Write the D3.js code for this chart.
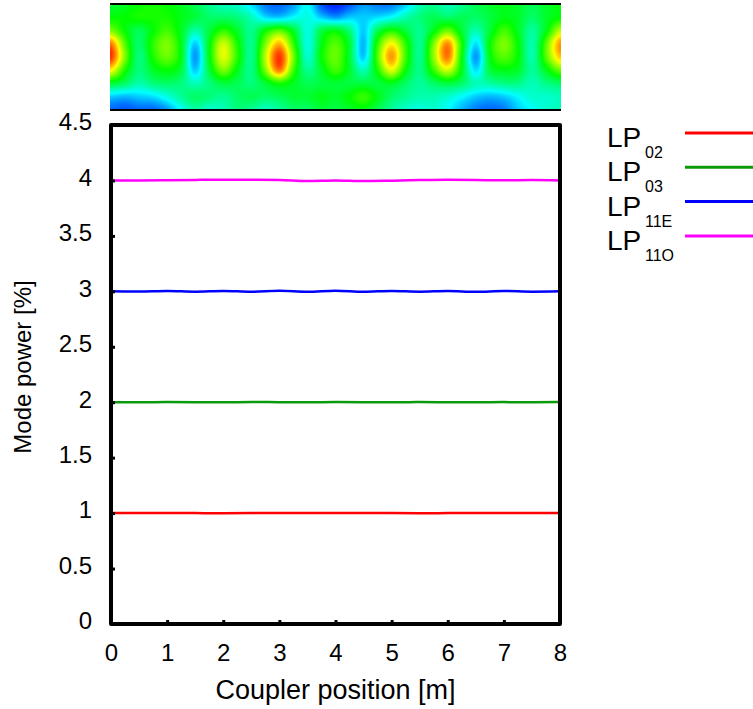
<!DOCTYPE html>
<html>
<head>
<meta charset="utf-8">
<script src="https://cdn.jsdelivr.net/npm/d3@7"></script>
<style>
  body { margin: 0; background: #fff; }
  svg { display: block; font-family: Arial, "Liberation Sans", Helvetica, sans-serif; }
</style>
</head>
<body>
<svg id="chart" width="753" height="709"></svg>
<script>
// ---- data -------------------------------------------------------------
const modeNames   = ["LP", "LP", "LP", "LP"];
const modeSubs    = ["02", "03", "11E", "11O"];
const modeColors  = ["#ff0000", "#0a9a0a", "#0000ff", "#ff00ff"];

// coupler position samples [m]
const positions = [0, 0.5, 1, 1.5, 2, 2.5, 3, 3.5, 4, 4.5, 5, 5.5, 6, 6.5, 7, 7.5, 8];
// mode power [%] along the coupler
const powerLP02  = [1.000, 1.000, 1.001, 1.000, 0.999, 1.000, 1.001, 1.000, 1.000, 1.001, 1.000, 0.999, 1.000, 1.001, 1.000, 1.000, 1.000];
const powerLP03  = [2.000, 1.999, 2.001, 2.000, 1.999, 2.002, 2.000, 1.999, 2.001, 2.000, 1.999, 2.001, 2.000, 1.999, 2.001, 2.000, 2.001];
const powerLP11E = [3.000, 2.998, 3.003, 2.997, 3.004, 2.996, 3.005, 2.996, 3.006, 2.996, 3.004, 2.997, 3.003, 2.996, 3.003, 2.997, 3.000];
const powerLP11O = [4.000, 4.000, 4.002, 4.005, 4.007, 4.006, 4.004, 3.995, 4.000, 3.994, 3.998, 4.003, 4.006, 4.004, 4.001, 4.004, 4.000];
const series = [powerLP02, powerLP03, powerLP11E, powerLP11O];

const xTicks = [0, 1, 2, 3, 4, 5, 6, 7, 8];
const yTicks = [0, 0.5, 1, 1.5, 2, 2.5, 3, 3.5, 4, 4.5];

// field intensity map above the plot (normalised 0..1), rows top -> bottom,
// columns every 0.25 m from 0 to 8 m
const fieldCols = [0, 0.25, 0.5, 0.75, 1, 1.25, 1.5, 1.75, 2, 2.25, 2.5, 2.75, 3, 3.25, 3.5, 3.75, 4,
                   4.25, 4.5, 4.75, 5, 5.25, 5.5, 5.75, 6, 6.25, 6.5, 6.75, 7, 7.25, 7.5, 7.75, 8];
const fieldRows = [0, 0.125, 0.25, 0.375, 0.5, 0.625, 0.75, 0.875, 1];
const fieldRow0 = [0.45,0.47,0.50,0.52,0.50,0.47,0.42,0.36,0.32,0.30,0.22,0.12,0.10,0.15,0.25,0.08,0.03,0.08,0.15,0.12,0.12,0.20,0.32,0.36,0.32,0.36,0.42,0.46,0.48,0.46,0.42,0.46,0.50];
const fieldRow1 = [0.50,0.50,0.52,0.52,0.52,0.48,0.44,0.40,0.40,0.38,0.32,0.22,0.20,0.25,0.28,0.20,0.15,0.20,0.20,0.22,0.26,0.33,0.38,0.42,0.40,0.42,0.40,0.44,0.48,0.46,0.40,0.46,0.50];
const fieldRow2 = [0.62,0.50,0.42,0.50,0.56,0.47,0.34,0.44,0.54,0.46,0.36,0.50,0.58,0.46,0.28,0.43,0.48,0.38,0.20,0.42,0.52,0.44,0.36,0.48,0.60,0.45,0.33,0.45,0.56,0.47,0.35,0.48,0.68];
const fieldRow3 = [0.88,0.58,0.40,0.54,0.62,0.48,0.20,0.48,0.70,0.52,0.36,0.62,0.82,0.55,0.28,0.48,0.58,0.45,0.18,0.54,0.75,0.54,0.36,0.62,0.86,0.52,0.22,0.50,0.62,0.50,0.33,0.58,0.85];
const fieldRow4 = [0.95,0.62,0.38,0.52,0.60,0.48,0.15,0.48,0.72,0.54,0.36,0.68,0.95,0.62,0.30,0.50,0.60,0.45,0.20,0.58,0.85,0.56,0.36,0.64,0.88,0.50,0.15,0.48,0.58,0.50,0.33,0.58,0.80];
const fieldRow5 = [0.75,0.52,0.38,0.46,0.50,0.44,0.20,0.44,0.62,0.48,0.37,0.62,0.88,0.56,0.36,0.46,0.56,0.46,0.32,0.52,0.72,0.50,0.37,0.55,0.70,0.48,0.22,0.44,0.48,0.46,0.35,0.47,0.60];
const fieldRow6 = [0.45,0.40,0.33,0.38,0.40,0.38,0.32,0.38,0.44,0.42,0.38,0.45,0.52,0.47,0.42,0.44,0.45,0.44,0.44,0.44,0.47,0.40,0.35,0.40,0.44,0.40,0.32,0.34,0.37,0.37,0.32,0.37,0.40];
const fieldRow7 = [0.20,0.18,0.20,0.22,0.28,0.35,0.40,0.38,0.36,0.40,0.42,0.40,0.42,0.45,0.45,0.48,0.46,0.50,0.55,0.48,0.40,0.36,0.33,0.33,0.30,0.25,0.20,0.18,0.20,0.25,0.30,0.30,0.32];
const fieldRow8 = [0.10,0.08,0.10,0.10,0.15,0.26,0.34,0.30,0.32,0.38,0.36,0.31,0.35,0.40,0.40,0.45,0.43,0.46,0.48,0.42,0.35,0.30,0.28,0.30,0.25,0.18,0.12,0.10,0.12,0.20,0.25,0.30,0.32];
const fieldGrid = [fieldRow0, fieldRow1, fieldRow2, fieldRow3, fieldRow4, fieldRow5, fieldRow6, fieldRow7, fieldRow8];

// ---- layout -----------------------------------------------------------
const svg = d3.select("#chart");
const x = d3.scaleLinear().domain([0, 8]).range([111, 560]);
const y = d3.scaleLinear().domain([0, 4.5]).range([624, 125]);
const fy = d3.scaleLinear().domain([0, 1]).range([4, 110]);   // field map rows

// ---- field map --------------------------------------------------------
const jet = d3.scaleLinear()
  .domain([0, 0.25, 0.5, 0.75, 1])
  .range(["#0000ff", "#00ffff", "#00ff00", "#ffff00", "#ff0000"])
  .clamp(true);
const lut = d3.range(256).map(i => d3.rgb(jet(i / 255)));

function catmull(p0, p1, p2, p3, t) {
  const t2 = t * t, t3 = t2 * t;
  return 0.5 * ((2 * p1) + (-p0 + p2) * t + (2 * p0 - 5 * p1 + 4 * p2 - p3) * t2 + (-p0 + 3 * p1 - 3 * p2 + p3) * t3);
}
const colIndex = d3.scaleLinear().domain(d3.extent(fieldCols)).range([0, fieldCols.length - 1]).clamp(true);
const rowIndex = d3.scaleLinear().domain(d3.extent(fieldRows)).range([0, fieldRows.length - 1]).clamp(true);
function sampleField(m, f) {
  const nc = fieldCols.length, nr = fieldRows.length;
  const u = colIndex(m), v = rowIndex(f);
  const ci = Math.min(Math.floor(u), nc - 2), ri = Math.min(Math.floor(v), nr - 2);
  const tu = u - ci, tv = v - ri;
  const cc = k => Math.max(0, Math.min(nc - 1, k));
  const rr = k => Math.max(0, Math.min(nr - 1, k));
  const rowVals = [-1, 0, 1, 2].map(d => {
    const row = fieldGrid[rr(ri + d)];
    return catmull(row[cc(ci - 1)], row[cc(ci)], row[cc(ci + 1)], row[cc(ci + 2)], tu);
  });
  return catmull(rowVals[0], rowVals[1], rowVals[2], rowVals[3], tv);
}

const mapX0 = x(0) - 1, mapX1 = x(8) + 1;
const W = Math.round(mapX1 - mapX0), H = Math.round(fy(1) - fy(0));
const canvas = document.createElement("canvas");
canvas.width = W; canvas.height = H;
const ctx = canvas.getContext("2d");
const img = ctx.createImageData(W, H);
for (let j = 0; j < H; j++) {
  const f = fy.invert(fy(0) + j + 0.5);
  for (let i = 0; i < W; i++) {
    const m = Math.max(0, Math.min(8, x.invert(mapX0 + i + 0.5)));
    const val = Math.max(0, Math.min(1, sampleField(m, f)));
    const c = lut[Math.round(val * 255)];
    const k = (j * W + i) * 4;
    img.data[k] = c.r; img.data[k + 1] = c.g; img.data[k + 2] = c.b; img.data[k + 3] = 255;
  }
}
ctx.putImageData(img, 0, 0);
svg.append("image")
  .attr("x", mapX0).attr("y", fy(0))
  .attr("width", W).attr("height", H)
  .attr("preserveAspectRatio", "none")
  .attr("href", canvas.toDataURL());
svg.append("g").selectAll("line").data([0, 1]).join("line")
  .attr("x1", mapX0).attr("x2", mapX1)
  .attr("y1", d => fy(d)).attr("y2", d => fy(d))
  .attr("stroke", "#000").attr("stroke-width", 2);

// ---- mode power curves ------------------------------------------------
const line = d3.line().x((d, i) => x(positions[i])).y(d => y(d)).curve(d3.curveMonotoneX);
svg.append("g").selectAll("path").data(series).join("path")
  .attr("d", line)
  .attr("fill", "none")
  .attr("stroke", (d, i) => modeColors[i])
  .attr("stroke-width", 2.5);

// ---- axes -------------------------------------------------------------
const yAxis = svg.append("g").attr("transform", `translate(${x(0)},0)`)
  .call(d3.axisLeft(y).tickValues(yTicks).tickSize(-4).tickPadding(19).tickFormat(d3.format("")));
const xAxis = svg.append("g").attr("transform", `translate(0,${y(0)})`)
  .call(d3.axisBottom(x).tickValues(xTicks).tickSize(-4).tickPadding(20).tickFormat(d3.format("d")));
[yAxis, xAxis].forEach(g => {
  g.select(".domain").remove();
  g.selectAll(".tick line").attr("stroke", "#000").attr("stroke-width", 3);
  g.selectAll(".tick text").attr("fill", "#000").attr("font-size", 24);
});
yAxis.selectAll(".tick text").attr("dy", "0.2em");

// plot frame
svg.append("rect")
  .attr("x", x(0)).attr("y", y(4.5))
  .attr("width", x(8) - x(0)).attr("height", y(0) - y(4.5))
  .attr("fill", "none").attr("stroke", "#000").attr("stroke-width", 4)
  .attr("stroke-linejoin", "round");

// axis titles
svg.append("text")
  .attr("x", (x(0) + x(8)) / 2).attr("y", 699)
  .attr("text-anchor", "middle").attr("font-size", 27)
  .text("Coupler position [m]");
svg.append("text")
  .attr("transform", `translate(31,367) rotate(-90)`)
  .attr("text-anchor", "middle").attr("font-size", 24)
  .text("Mode power [%]");

// ---- legend -----------------------------------------------------------
const legend = svg.append("g").selectAll("g").data(modeSubs).join("g")
  .attr("transform", (d, i) => `translate(0,${133 + i * 34.3})`);
legend.append("text").attr("x", 607).attr("y", 14).attr("font-size", 28)
  .text((d, i) => modeNames[i]);
legend.append("text").attr("x", 645).attr("y", 25).attr("font-size", 16)
  .text(d => d);
legend.append("line").attr("x1", 685).attr("x2", 753).attr("y1", 0).attr("y2", 0)
  .attr("stroke", (d, i) => modeColors[i]).attr("stroke-width", 3);
</script>
</body>
</html>
